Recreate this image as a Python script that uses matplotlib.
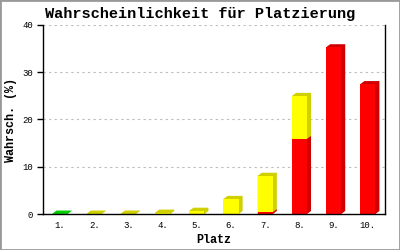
import matplotlib
matplotlib.use("Agg")
import matplotlib.pyplot as plt
from matplotlib.patches import Polygon, Rectangle
import numpy as np

places = ['1.', '2.', '3.', '4.', '5.', '6.', '7.', '8.', '9.', '10.']
green = [0.1, 0, 0, 0, 0, 0, 0, 0, 0, 0]
red = [0, 0, 0, 0, 0, 0, 0.4, 15.9, 35.3, 27.5]
yellow = [0, 0.1, 0.1, 0.3, 0.7, 3.2, 7.7, 9.1, 0, 0]
yticks = [0, 10, 20, 30, 40]

series = [(green, '#00ee00', '#00cc00'),
          (red, '#ff0000', '#d00000'),
          (yellow, '#ffff00', '#d0d000')]

mono = ['Liberation Mono', 'DejaVu Sans Mono']

fig = plt.figure(figsize=(4, 2.5), dpi=100)
ax = fig.add_axes([0.1075, 0.144, 0.855, 0.756])
x = np.arange(1, len(places) + 1)
ax.set_xlim(0.5, len(places) + 0.5)
ax.set_ylim(0, 40)

# pixel depth -> data units
inv = ax.transData.inverted()
p0 = inv.transform(ax.transData.transform((0, 0)))
p1 = inv.transform(ax.transData.transform((0, 0)) + np.array([4, 3]))
ddx, ddy = p1 - p0

w = 0.44
bottom = np.zeros(len(places))
for vals, front, side in series:
    vals = np.array(vals, dtype=float)
    for xi, b, v in zip(x, bottom, vals):
        if v <= 0:
            continue
        x0, x1, t = xi - w / 2, xi + w / 2, b + v
        hexa = [(x0, b), (x1, b), (x1 + ddx, b + ddy), (x1 + ddx, t + ddy),
                (x0 + ddx, t + ddy), (x0, t)]
        ax.add_patch(Polygon(hexa, closed=True, facecolor=side,
                             edgecolor='none', zorder=2))
    ax.bar(x, vals, w, bottom=bottom, color=front, edgecolor='none', zorder=2.1)
    bottom = bottom + vals

ax.set_yticks(yticks)
ax.set_xticks(x)
ax.set_xticklabels(places)
ax.grid(axis='y', color='#bbbbbb', linestyle=(0, (2, 3)), linewidth=0.8, zorder=0)
for s in ['left', 'bottom', 'right']:
    ax.spines[s].set_color('black')
    ax.spines[s].set_linewidth(1.0)
    ax.spines[s].set_zorder(3)
ax.spines['top'].set_visible(False)
ax.tick_params(axis='y', direction='out', length=4, width=1, pad=3, labelsize=6.5)
ax.tick_params(axis='x', length=0, pad=5, labelsize=6.5)
for lab in ax.get_xticklabels() + ax.get_yticklabels():
    lab.set_family(mono)

ax.set_xlabel('Platz', family=mono, fontweight='bold', fontsize=8.5, labelpad=3)
ax.set_ylabel('Wahrsch. (%)', family=mono, fontweight='bold', fontsize=8.5, labelpad=4)
fig.text(0.5, 0.945, 'Wahrscheinlichkeit für Platzierung', family=mono,
         fontweight='bold', fontsize=11, ha='center', va='center')

fig.patches.append(Rectangle((0, 0), 1, 1, transform=fig.transFigure, fill=False,
                             edgecolor='#999999', linewidth=2))

fig.savefig('out.png', dpi=100)
